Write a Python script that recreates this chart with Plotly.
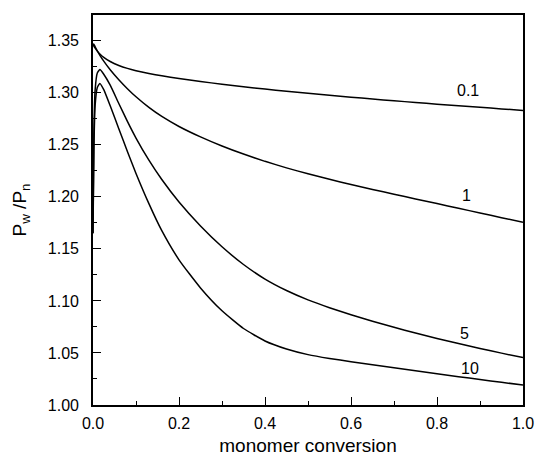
import plotly.graph_objects as go

# monomer conversion grid
conversion = [0, 0.002, 0.005, 0.01, 0.016, 0.025, 0.04, 0.06, 0.08, 0.1, 0.13, 0.16,
              0.2, 0.25, 0.3, 0.35, 0.4, 0.45, 0.5, 0.55, 0.6, 0.65, 0.7, 0.75,
              0.8, 0.85, 0.9, 0.95, 1.0]

pdi_01 = [1.3465, 1.3449, 1.3428, 1.340, 1.3373, 1.334, 1.330, 1.3262, 1.3234, 1.3212, 1.3185, 1.31625,
          1.31365, 1.3108, 1.3082, 1.3058, 1.30355, 1.30145, 1.29945, 1.29755, 1.29575, 1.294, 1.2923, 1.29065,
          1.28905, 1.2875, 1.286, 1.2845, 1.283]

pdi_1 = [1.347, 1.3466, 1.3442, 1.3402, 1.336, 1.3304, 1.3221, 1.3125, 1.3039, 1.2961, 1.2859, 1.2772,
         1.2676, 1.2576, 1.24885, 1.2411, 1.2341, 1.22785, 1.2221, 1.21685, 1.21185, 1.2071, 1.2025, 1.198,
         1.1935, 1.189, 1.1845, 1.18, 1.1755]

pdi_5 = [1.165, 1.26, 1.303, 1.319, 1.3223, 1.3178, 1.3073, 1.2897, 1.2725, 1.2565, 1.2352, 1.2166,
         1.195, 1.172, 1.152, 1.135, 1.121, 1.110, 1.101, 1.0935, 1.08675, 1.0805, 1.07465, 1.06915,
         1.06395, 1.05905, 1.05435, 1.04985, 1.0455]

pdi_10 = [1.165, 1.245, 1.288, 1.305, 1.309, 1.303, 1.2875, 1.2655, 1.2435, 1.2225, 1.1935, 1.1675,
          1.1395, 1.1125, 1.0905, 1.0735, 1.0615, 1.0538, 1.0484, 1.0447, 1.0416, 1.0386, 1.0357, 1.0328,
          1.03, 1.0272, 1.0245, 1.0218, 1.0192]

series = [("0.1", pdi_01), ("1", pdi_1), ("5", pdi_5), ("10", pdi_10)]

label_text = ["0.1", "1", "5", "10"]
label_x = [0.872, 0.869, 0.865, 0.877]
label_y = [1.3026, 1.2017, 1.0689, 1.0353]

FONT = "Liberation Sans, Arial"

fig = go.Figure()
for name, ys in series:
    fig.add_trace(go.Scatter(x=conversion, y=ys, mode="lines", name=name,
                             line=dict(color="black", width=1.5, shape="spline", smoothing=0.5),
                             showlegend=False))

for t, lx, ly in zip(label_text, label_x, label_y):
    fig.add_annotation(x=lx, y=ly, text=t, showarrow=False,
                       font=dict(family=FONT, size=16, color="black"))

fig.update_layout(
    width=536, height=462,
    margin=dict(l=93, r=13, t=15, b=57),
    plot_bgcolor="white", paper_bgcolor="white",
    font=dict(family=FONT, size=16, color="black"),
)
fig.update_xaxes(
    range=[0, 1.0], dtick=0.2, tickformat=".1f",
    showline=True, linecolor="black", linewidth=1.6, mirror=True,
    ticks="inside", ticklen=8, tickwidth=1.2, tickcolor="black",
    minor=dict(ticks="inside", ticklen=4, dtick=0.1, tickcolor="black", tickwidth=1.2),
    showgrid=False, zeroline=False, ticklabelstandoff=3, ticklabeloverflow="allow",
    automargin=False,
    tickfont=dict(family=FONT, size=16, color="black"),
    title=dict(text="monomer conversion", font=dict(family=FONT, size=19, color="black"), standoff=8),
)
fig.update_yaxes(
    range=[1.0, 1.3747], dtick=0.05, tick0=1.0, tickformat=".2f",
    showline=True, linecolor="black", linewidth=1.6, mirror=True,
    ticks="inside", ticklen=8, tickwidth=1.2, tickcolor="black",
    minor=dict(ticks="inside", ticklen=4, dtick=0.025, tickcolor="black", tickwidth=1.2),
    showgrid=False, zeroline=False, ticklabelstandoff=9, ticklabeloverflow="allow",
    automargin=False,
    tickfont=dict(family=FONT, size=16, color="black"),
    title=dict(text="P<sub>w</sub> /P<sub>n</sub>", font=dict(family=FONT, size=19, color="black"), standoff=16),
)

# remove the default page margin so the figure fills the window exactly
fig.write_html("out.html",
               config={"displayModeBar": False},
               post_script="document.body.style.margin='0';document.body.style.overflow='hidden';")
